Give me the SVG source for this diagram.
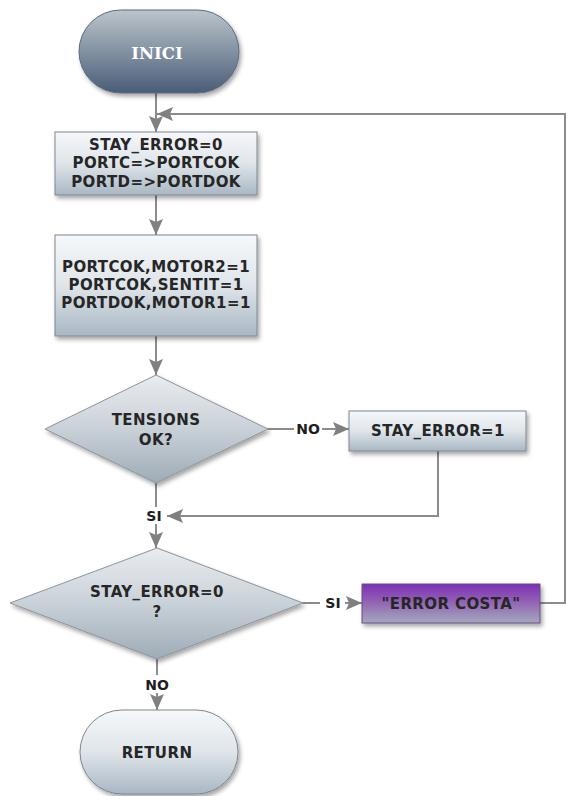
<svg xmlns="http://www.w3.org/2000/svg" width="567" height="796" viewBox="0 0 567 796">
  <defs>
    <linearGradient id="gStart" x1="0" y1="0" x2="0" y2="1">
      <stop offset="0" stop-color="#bcc4cc"/>
      <stop offset="0.45" stop-color="#8896a6"/>
      <stop offset="1" stop-color="#4a5d77"/>
    </linearGradient>
    <linearGradient id="gBox" x1="0" y1="0" x2="0" y2="1">
      <stop offset="0" stop-color="#f6f8fa"/>
      <stop offset="0.5" stop-color="#dfe5ea"/>
      <stop offset="1" stop-color="#a9b7c3"/>
    </linearGradient>
    <linearGradient id="gDiamond" x1="0" y1="0" x2="0" y2="1">
      <stop offset="0" stop-color="#e9ecef"/>
      <stop offset="0.5" stop-color="#c9d1d8"/>
      <stop offset="1" stop-color="#9eabb6"/>
    </linearGradient>
    <linearGradient id="gPurple" x1="0" y1="0" x2="0" y2="1">
      <stop offset="0" stop-color="#7c2fb6"/>
      <stop offset="0.5" stop-color="#9468b4"/>
      <stop offset="1" stop-color="#a3a9bd"/>
    </linearGradient>
    <filter id="shadow" x="-10%" y="-10%" width="125%" height="135%">
      <feDropShadow dx="2" dy="3" stdDeviation="2" flood-color="#000" flood-opacity="0.35"/>
    </filter>
    <marker id="arrow" viewBox="0 0 16 14" refX="16" refY="7" markerWidth="16" markerHeight="14" markerUnits="userSpaceOnUse" orient="auto">
      <path d="M0,0 L16,7 L0,14 L3,7 Z" fill="#808080"/>
    </marker>
    <style>
      .box { fill: url(#gBox); stroke: #7d8891; stroke-width: 1; filter: url(#shadow); }
      .dia { fill: url(#gDiamond); stroke: #8a949c; stroke-width: 1; filter: url(#shadow); }
      .lbl { font-family: "DejaVu Sans", Verdana, sans-serif; font-weight: bold; font-size: 15px; letter-spacing: 0.4px; fill: #262626; text-anchor: middle; }
      .edge { font-family: "DejaVu Sans", Verdana, sans-serif; font-weight: bold; font-size: 14px; fill: #1e1e1e; text-anchor: middle; }
      .wire { fill: none; stroke: #8c8c8c; stroke-width: 2; }
    </style>
  </defs>

  <rect width="567" height="796" fill="#ffffff"/>

  <!-- connectors -->
  <g id="connectors">
    <path class="wire" d="M156,93 V132" marker-end="url(#arrow)"/>
    <path class="wire" d="M540,603 H565 V114 H157" marker-end="url(#arrow)"/>
    <path class="wire" d="M156,195 V235" marker-end="url(#arrow)"/>
    <path class="wire" d="M156,336 V375" marker-end="url(#arrow)"/>
    <path class="wire" d="M268,429 H294"/>
    <path class="wire" d="M322,429 H349" marker-end="url(#arrow)"/>
    <path class="wire" d="M438,451 V516 H167" marker-end="url(#arrow)"/>
    <path class="wire" d="M156,483 V507"/>
    <path class="wire" d="M156,524 V548" marker-end="url(#arrow)"/>
    <path class="wire" d="M303,603 H320"/>
    <path class="wire" d="M345,603 H362" marker-end="url(#arrow)"/>
    <path class="wire" d="M157,659 V675"/>
    <path class="wire" d="M157,693 V710" marker-end="url(#arrow)"/>
    <text class="edge" x="308" y="434">NO</text>
    <text class="edge" x="154" y="521">SI</text>
    <text class="edge" x="333" y="608">SI</text>
    <text class="edge" x="157" y="690">NO</text>
  </g>

  <!-- start terminal -->
  <g id="inici">
    <rect x="79" y="10" width="160" height="83" rx="41.5" ry="41.5" fill="url(#gStart)" stroke="#5b6b7e" stroke-width="1" filter="url(#shadow)"/>
    <text x="157" y="59" font-family="'DejaVu Serif', 'Liberation Serif', serif" font-weight="bold" font-size="16.5" fill="#ffffff" text-anchor="middle">INICI</text>
  </g>

  <!-- initialisation -->
  <g id="init">
    <rect class="box" x="55" y="132" width="202" height="63"/>
    <text class="lbl" x="156" y="150">STAY_ERROR=0</text>
    <text class="lbl" x="156" y="168">PORTC=&gt;PORTCOK</text>
    <text class="lbl" x="156" y="187">PORTD=&gt;PORTDOK</text>
  </g>

  <!-- motor outputs -->
  <g id="motors">
    <rect class="box" x="55" y="235" width="202" height="101"/>
    <text class="lbl" x="156" y="272">PORTCOK,MOTOR2=1</text>
    <text class="lbl" x="156" y="290">PORTCOK,SENTIT=1</text>
    <text class="lbl" x="156" y="308">PORTDOK,MOTOR1=1</text>
  </g>

  <!-- voltage check -->
  <g id="tensions">
    <polygon class="dia" points="156,375 268,429 156,483 45,429"/>
    <text class="lbl" x="156" y="425">TENSIONS</text>
    <text class="lbl" x="156" y="445">OK?</text>
  </g>

  <!-- error flag -->
  <g id="set-error">
    <rect class="box" x="349" y="411" width="177" height="40"/>
    <text class="lbl" x="438" y="436">STAY_ERROR=1</text>
  </g>

  <!-- error test -->
  <g id="error-check">
    <polygon class="dia" points="157,548 303,603 157,659 10,603"/>
    <text class="lbl" x="157" y="597">STAY_ERROR=0</text>
    <text class="lbl" x="157" y="617">?</text>
  </g>

  <!-- error message -->
  <g id="error-costa">
    <rect x="362" y="584" width="178" height="39" fill="url(#gPurple)" stroke="#6a4d86" stroke-width="1" filter="url(#shadow)"/>
    <text class="lbl" x="451" y="609" fill="#1c1c3a">"ERROR COSTA"</text>
  </g>

  <!-- end terminal -->
  <g id="return">
    <rect x="80" y="710" width="158" height="84" rx="42" ry="42" fill="url(#gBox)" stroke="#7d8891" stroke-width="1" filter="url(#shadow)"/>
    <text class="lbl" x="157" y="758">RETURN</text>
  </g>
</svg>
